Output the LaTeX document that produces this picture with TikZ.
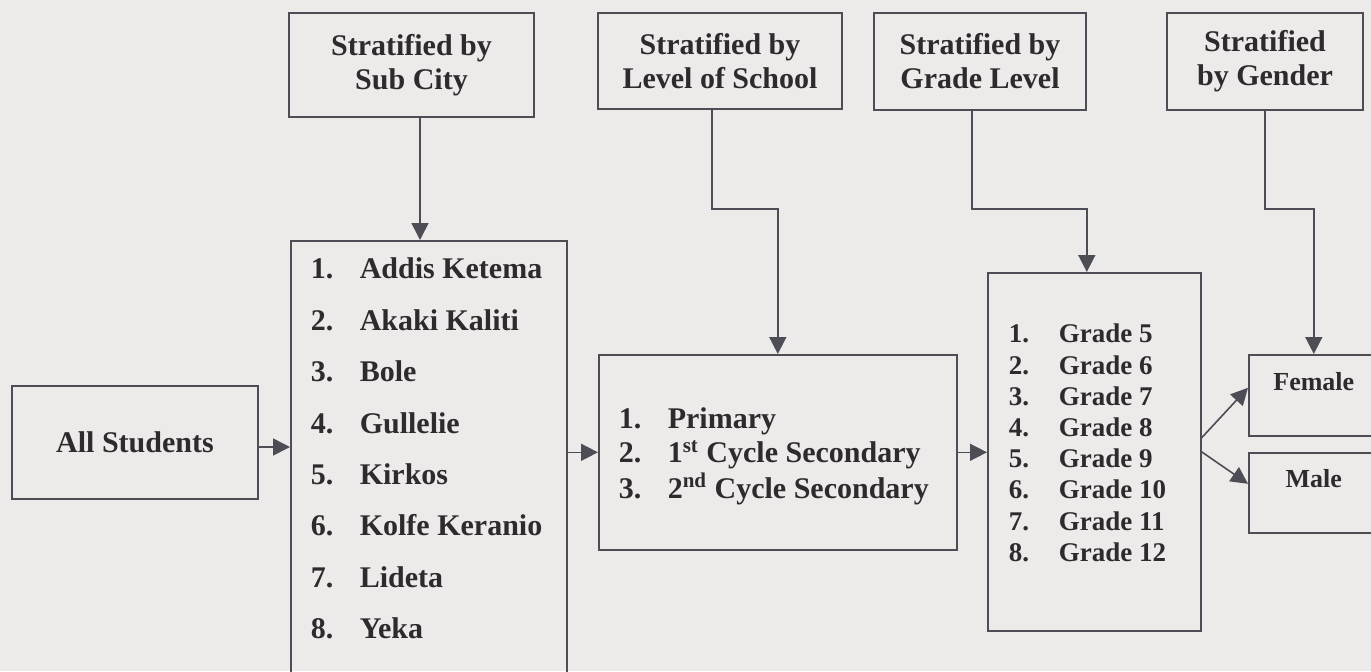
\documentclass[tikz,border=0pt]{standalone}
\usepackage{fontspec}
\setmainfont{Liberation Serif}
\usetikzlibrary{positioning,arrows.meta}

\definecolor{paper}{RGB}{236,235,233}
\definecolor{ink}{RGB}{78,76,84}
\definecolor{txt}{RGB}{45,43,46}

\tikzset{
  head/.style={draw=ink, line width=0.8pt, text=txt, align=center, inner sep=0pt,
    font=\bfseries\fontsize{15}{17}\selectfont},
  listbox/.style={draw=ink, line width=0.8pt, text=txt, anchor=north west,
    inner xsep=10pt, inner ysep=0pt},
  sexbox/.style={draw=ink, line width=0.8pt, text=txt, anchor=north west,
    minimum width=65pt, inner ysep=0pt, text depth=22.5pt,
    font=\bfseries\fontsize{13}{15}\selectfont},
  conn/.style={draw=ink, line width=0.8pt, -{Triangle[length=8.5pt,width=8.5pt]}},
}

\begin{document}
\begin{tikzpicture}[x=0.5pt,y=-0.5pt]
	\clip (0,0) rectangle (1371,671);
	\fill[paper] (0,0) rectangle (1371,671);

	% top row
	\node[head,line width=1.4pt,minimum width=122.5pt,minimum height=52pt] (subcity) at (411.5,65) {Stratified by\\Sub City};
	\node[head,minimum width=122pt,minimum height=48pt] (school) at (720,61) {Stratified by\\Level of School};
	\node[head,minimum width=106pt,minimum height=48.5pt] (gradelvl) at (980,61.5) {Stratified by\\Grade Level};
	\node[head,minimum width=98pt,minimum height=48.5pt] (gender) at (1265,61.5) {Stratified\\by Gender};

	% lower row
	\node[head,minimum width=123pt,minimum height=56.5pt] (students) at (135,442.5) {All Students};
	\node[listbox,text height=19pt,text depth=211pt,font=\bfseries\fontsize{15}{25.7}\selectfont] (cities) at (290,240)
		{\begin{tabular}[t]{@{}p{24.5pt}@{}p{93.5pt}@{}}
		1. & Addis Ketema\\
		2. & Akaki Kaliti\\
		3. & Bole\\
		4. & Gullelie\\
		5. & Kirkos\\
		6. & Kolfe Keranio\\
		7. & Lideta\\
		8. & Yeka
		\end{tabular}};
	\node[listbox,text height=37pt,text depth=60.5pt,font=\bfseries\fontsize{15}{17}\selectfont] (levels) at (598,354)
		{\begin{tabular}[t]{@{}p{24.5pt}@{}p{134.5pt}@{}}
		1. & Primary\\
		2. & 1\textsuperscript{st} Cycle Secondary\\
		3. & 2\textsuperscript{nd} Cycle Secondary
		\end{tabular}};
	\node[listbox,inner xsep=10.5pt,text height=35pt,text depth=144pt,font=\bfseries\fontsize{13.5}{15.6}\selectfont] (grades) at (987,272)
		{\begin{tabular}[t]{@{}p{25pt}@{}p{60.5pt}@{}}
		1. & Grade 5\\
		2. & Grade 6\\
		3. & Grade 7\\
		4. & Grade 8\\
		5. & Grade 9\\
		6. & Grade 10\\
		7. & Grade 11\\
		8. & Grade 12
		\end{tabular}};
	\node[sexbox,text height=18pt] (female) at (1248,354) {Female};
	\node[sexbox,text height=17.5pt] (male) at (1248,452) {Male};

	% connectors
	\draw[conn] ([yshift=-2.25pt]students.east) -- ([yshift=-2.25pt]students.east -| cities.west);
	\draw[conn] (levels.west -| cities.east) -- (levels.west);
	\draw[conn] (levels.east) -- (levels.east -| grades.west);
	\draw[conn] ([xshift=4.25pt]subcity.south) -- ([xshift=4.25pt]subcity.south |- cities.north);
	\draw[conn] ([xshift=-4pt]school.south) -- ++(0,99) -| (levels.north);
	\draw[conn] ([xshift=-4pt]gradelvl.south) -- ++(0,98) -| ([xshift=-3.75pt]grades.north);
	\draw[conn] (gender.south) -- ++(0,98) -| (female.north);
	\draw[conn] ([yshift=7pt]grades.east) -- ([yshift=3.75pt]female.west);
	\draw[conn] (grades.east) -- ([yshift=4.5pt]male.west);
\end{tikzpicture}
\end{document}
